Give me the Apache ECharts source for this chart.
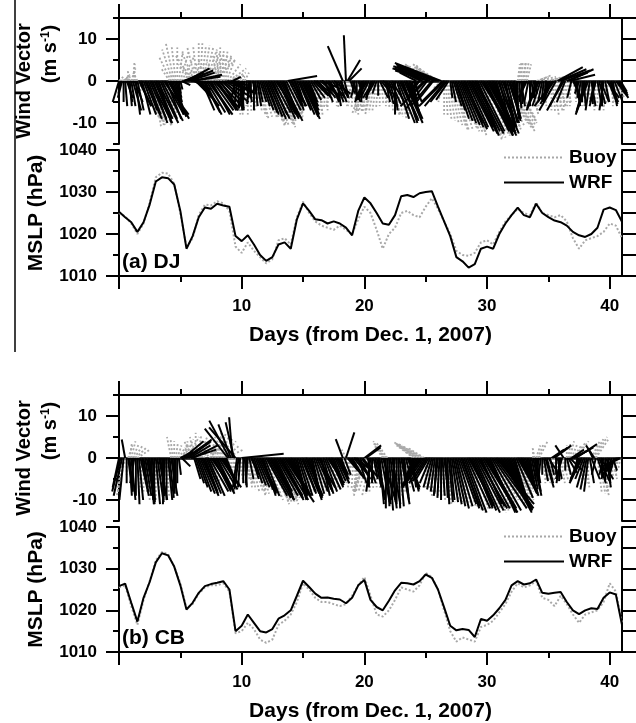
<!DOCTYPE html>
<html><head><meta charset="utf-8">
<script src="https://cdn.jsdelivr.net/npm/echarts@6/dist/echarts.min.js"></script>
<style>html,body{margin:0;padding:0;background:#fff}#c{width:636px;height:723px}</style>
</head><body><div id="c"></div>
<script>
const FONT = '"Liberation Sans", Arial, Helvetica, sans-serif';

// ---- tick values ----
const dayTicks = [0, 10, 20, 30, 40];
const dayMinor = [5, 15, 25, 35];
const dayLabels = [10, 20, 30, 40];
const windTicks = [-10, 0, 10];
const windMinor = [-15, -5, 5, 15];
const windRight = [-15, -10, -5, 0, 5, 10, 15];
const mslpTicks = [1010, 1020, 1030, 1040];
const mslpMinor = [1015, 1025, 1035];
const mslpRight = [1010, 1015, 1020, 1025, 1030, 1035, 1040];

const windStep = 0.125; // days between wind vectors (3-hourly)
const mslpStep = 0.5;   // days between MSLP samples

// ---- (a) DJ wind vectors, m/s (one row per day) ----
const wrfA_v = [
-5,-3,-4,-5,-6,-4,-5,-6,
-6,-7,-5,-8,-7,-6,-6,-8,
-8,-9,-7,-8,-9,-10,-10,-9,
-9,-10,-10,-9,-9.5,-8,-8,-9,
-9,-8.5,-8,-7,-6,-5,-4,-3,
-2,-1,1,2,3,2.5,2,1,
1.5,-2,-3,-4,-5,-6,-7,-7.5,
-8,-7.5,-7,-8,-8,-7,-6.5,-7,
-7,-6.5,-6,-5,-5,-4,-3,-2.5,
-2,-1,1,-3,-4,-5,-6,-7,
-7,-6.5,-6,-4,-5,-5.5,-4,-3,
-7,-6,-6,-5,-5,-6,-7,-7.5,
-8,-8.5,-9,-9,-8,-7.5,-7,-8,
-9,-9,-9.5,-8.5,-8,-7,1.2,-6,
-5,-6,-6,-7,-6,-7,-8,-8.5,
-9,-8,-7,-6,-5,-4.5,-4,-3.5,
-3,-3.5,-4,-3,-2,-4,-5,-4,
-4,-4.5,-5,-4,-3,-5,-6,-5,
-4,-3,8.3,-4,10.9,5,3,-3,
-5,-4.5,-4,-3,-3,-4,-5,-4.5,
-4,-4.5,-5,-4,-4.5,-4,-4,-3.5,
-3,-3.5,-4,-3,-2,-4,-5,-5.5,
-6,-5.5,-5,-7,-8,-9,-10,-9.5,
-9,-10,-10,-9,-8,-7.5,-7,-6,
-5,-4,2,-3,-4,2.5,3,-3,
-6,-6.5,2.5,3,-6,-5,3.5,3,
4,3.5,4.3,-5,-6,-6,-5,-4.5,
-4,-5,-6,-7,-9,-9.5,-10,-10.5,
-11,-11.5,-10,-11,-12,-12.5,-11,-11.5,
-12,-12.5,-13,-12,-11,-12,-12,-13,
-13,-12.5,-12,-11.5,-11,-12,-13,-12.5,
-12,-11,-10,-11,-11,-10,-9,-9.5,
-8,-8.5,-9,-8,-7,-6.5,-6,-5.5,
-5,-4.5,-4,-5,-6,-4,-3,-4,
-6,-6.5,-7,-6,-5,-4.5,-4,-5,
-4,-4.5,-5,-5.5,-6,-7,3.3,2.8,
2.5,-6,-7,-5,2,2.8,1.5,-4,
-4,-5,-6,-4,-3,-4,-5,-6,
-7,-7.5,-8,-7,-6,-5.5,-5,-6,
-6,-5.5,-5,-6,-7,-5,-4,-5,
-5,-5.5,-6,-5,-4,-3.5,-3,-2.5];
const wrfA_u = [
-1.5,-0.5,-1,0,0.5,1.5,1,0.5,
1,2,2,1,1.5,3,2.5,2,
3,4,2.5,3,4,5,3.5,4,
4,5,3,4,5,6,4.5,3.5,
5,4,3,2.5,2,1.5,1,0.5,
0.5,2,3,4.5,5.5,6,6,7,
7,4,3,3.5,4,4.5,3,4,
4,4.5,5,5.5,4.5,5,6,5,
5,6,4,5,6,6.5,7,6,
5,4,2,0,-1,-0.5,0,0.5,
0.5,-1,-0.5,0.5,1,-0.5,0,1,
0,0.5,1,1,1.5,2,2.5,3,
3,3.5,4,4.5,3.5,4,5,4.5,
4,4.5,5,4,3,3.5,7,3,
3,2.5,3,2,2,3,3.5,4,
4,3.5,3,2.5,2,2.5,3,3.5,
4,3,3,4,5,3,2,3,
3,2.5,2,3,4,2,1,2,
2,1,-3.6,1,-0.5,3,3,1,
2,1,-1,0,1,0.5,0,-1,
-2,-2.5,-3,-2,-1,-1.5,-2.5,-2,
-1,0,2,2.5,3,2,1,1.5,
2,2.5,3,1,0,3,4,4.5,
4,3.5,4.4,4,3,2.5,2,1.5,
2,1,-4,-2,-3,-5,-6,-3,
-6,-5,-8,-9,-5,-4,-9,-10,
-10,-11,-11,-5,-6,-5,-4,-3,
0.5,1,2,2.5,3,3.5,4,4.5,
5,5.5,4,5,6,6.5,5,5.5,
6,6.5,5,6,7,7.5,6,6.5,
7,6.5,6,5.5,5,4.5,4,5,
3,3.5,4,3,2,2.5,3,2.5,
2,1.5,1,0.5,0,0.5,1,0,
-1,-1.5,-2,-1,0,0.5,1,0,
-2,-2.5,-3,-2,-1,-0.5,0,-1,
-1,-1.5,-2,-3,-4.8,-4,6,6.5,
7,-3,-4,-2,5,6,6,-1,
2,1.5,1,0,-1,-0.5,0,0.5,
-2,-2.5,-3,-1,1,0,-1,-1.5,
1,1.5,2,0,-1,1,3,2,
2,1.5,1,2,3,2.5,2,1.5];
const buoyA_v = [
1,0.5,1,1.5,0.5,1,2,2.5,
3,4,4.5,3,2,-1,-3,-4,
-6,-7.5,-9,-9.5,-10,-10.5,-11,-10.5,
-10,-10.5,-11,-10,-9,-8.5,-8,-7.5,
-7,3,6,7.5,9,8.5,8,7.5,
7,6,5,4,3,2.5,2,4,
6,7,8,8.5,9,9,8.5,8.5,
8,7.5,7,6.5,6,5.5,5,4.5,
6,7,8,7.5,7,6,5,4,
3,2,1,-4,-7,-7.5,-8,-8,
1,1.5,2,-6,-8,-7.5,-7,-6.5,
-6,-7,-8,-8.5,-9,-8.5,-8,-9,
-9,-9.5,-10,-10.5,-11,-10.5,-10,-10.5,
-11,-10.5,-10,-9.5,-9,-8.5,-8,-8,
-8,-8.5,-9,-8,-7,-6.5,-6,-5.5,
-5,-5.5,-6,-5,-4,-4.5,-5,-5.5,
-6,-7,-8,-7.5,-7,-6.5,-6,-6.5,
-7,-6.5,-6,-5.5,-5,-5.5,-6,-6.5,
-5,-5.5,-6,-5,-4,-4.5,-5,-5.5,
-6,-6.5,-7,-7.5,-8,-7.5,-7,-7.5,
-8,-7.5,-7,-6.5,-6,-7,-8,-7.5,
-7,-6.5,-6,-5.5,-5,-5.5,-6,-6.5,
-7,-7.5,-8,-8,-8,-8.5,-9,-8.5,
-8,-8.5,-9,-8,-7,-6.5,-6,-4,
3,3.5,4,3.5,3,3.5,4,4,
4,3.5,3,3.5,4,3.5,3,3.5,
4,2,-2,-5,-8,-8.5,-9,-9.5,
-10,-10.5,-11,-11.5,-12,-11.5,-11,-11.5,
-12,-12.5,-13,-12.5,-12,-11.5,-11,-12,
-12,-12.5,-13,-13.5,-14,-13.5,-13,-13,
-13,-12.5,-12,-12.5,-13,-12.5,-12,-11.5,
-11,-10.5,-10,-11,-12,-11.5,-11,-10.5,
-10,-9.5,-9,0,4,4.5,4.5,4.5,
4.5,4.5,4,-3,-8,-7.5,-7,-6,
1,1.5,1,-3,-6,-5.5,-5,1,
1,-4,-7,-7.5,-8,-7,-6,-6,
-6,-6.5,-7,-6,-5,-5.5,-6,-5,
-4,-4.5,-5,-4,-3,-4.5,-6,-5.5,
-5,-5.5,-6,-5.5,-5,-6,-7,-6.5,
-6,-5.5,-5,-6,-7,-6.5,-6,-5.5,
-5,-5.5,-6,-5,-4,-3.5,-3,-2.5];
const buoyA_u = [
1,1.5,2,1.5,1,0.5,0,-0.5,
1,0.5,0,-0.5,-1,0,0,1,
2,2.5,3,3.5,4,3,2,2.5,
4,3.5,3,2.5,2,2.5,3,2,
1,-2,-3,-2.5,-2,-1,0,1,
2,3,4,4.5,5,5,5,-3,
-4,-3,-2,-1,0,0.5,1,1.5,
2,2.5,3,3.5,4,4.5,5,-2,
-1,-0.5,0,0.5,1,1.5,2,3,
4,3.5,3,0,0,0.5,1,0,
-2,0,1,0,0,0.5,1,1,
1,1.5,2,2,2,2.5,3,3,
3,3.5,4,3.5,3,3.5,4,4,
4,3.5,3,3,3,2.5,2,2.5,
3,2.5,2,1.5,1,1.5,2,2,
2,1.5,1,0.5,0,0.5,1,0.5,
0,0.5,1,0.5,0,-0.5,-1,-0.5,
0,-0.5,-1,0,1,0.5,0,0,
0,0.5,1,0.5,0,-0.5,-1,-0.5,
-1,-0.5,0,0,0,0.5,1,0,
-3,-2.5,-2,-1.5,-1,-1.5,-2,-1.5,
-1,-0.5,0,0.5,1,0.5,0,0.5,
1,1.5,2,1.5,1,1.5,2,2,
2,1.5,1,0.5,0,0.5,1,0,
-3,-3.5,-4,-4.5,-5,-4.5,-4,-4.5,
-5,-5.5,-6,-5,-4,-4.5,-5,-5.5,
-6,-4,-2,-1,0,0.5,1,1.5,
2,2.5,3,3,3,3.5,4,4,
4,4.5,5,4.5,4,4.5,5,5,
5,5.5,6,5.5,5,5.5,6,6,
6,5.5,5,4.5,4,4.5,5,5.5,
5,5.5,6,6.5,7,6.5,6,6,
6,5.5,5,1,0.5,0.5,0.5,0.8,
0.5,0.8,1,1.5,2,1.5,1,1,
3,3.5,4,2,1,0.5,0,4,
4,1,0,0.5,1,1.5,2,1.5,
-1,-0.5,0,0.5,1,0.5,0,-0.5,
1,0.5,0,-0.5,-1,-0.5,0,0.5,
0,-0.5,-1,0,1,0.5,0,-0.5,
0,0.5,1,0.5,0,-0.5,-1,-0.5,
1,0.5,0,1,2,1.5,1,0.5];

// ---- (b) CB wind vectors, m/s ----
const wrfB_v = [
-7,-8,-9,-10,4.4,-6,-8,-9,
-10,-8,-6,-9,-11,-10,-9,-8,
-7,-9,-10,-11,-11,-10,-10.5,-11,
-11,-10.5,-10,-9,-9,-10,-11,-10,
-10,-9.5,-9,-8.5,-8,-7,-6,-4,
1.5,-2,4,3.5,4.4,4,3,2,
3,-5,-6,-7,-8,-8.5,-9,-8.5,
-8,-8.5,-9,-8,-7,-7.5,-8,-8.5,
-8,-7.5,-7,-6.5,-6,-5.5,-5,7,
8.9,8,9.7,8.5,7.3,-7,-7.5,-7,
1,-6,-7,-6.5,-6,-5,-4,-5,
-6,-6.5,-7,-7.5,-8,-8.5,-9,-9,
-9,-9.5,-10,-10,-9.5,-9,-8,-9,
-10,-9.5,-9,-10,-10.5,-9,-8,-8.5,
-9,-9.5,-10,-9,-8,-8.5,-9,-8.5,
-8,-8.5,-9,-9.5,-10,-9.5,-9,-8.5,
-8,-7.5,-7,-8,-9,-8.5,-8,-7.5,
-6,-6.5,-7,-6,-5,-5.5,-6,-5,
-4,-3,4.5,-4,6.1,-3,-4,-4.5,
-5,-4,-3,-4.5,-6,-5,-4,-4.5,
3,2.5,-6,-7,-8,-6,-5,-7,
-9,-10,-11,-10.5,-10,-11,-12,-11.5,
-12.5,-12,-11,-10.5,-10,-11,-12,-11.5,
-11,-10,-9,-8,-7,-7.5,-8,-7,
-5,-5.5,-6,-6.5,-7,-6.8,-6.6,-6.2,
-6,-5.5,-5,-6,-7,-7.5,-8,-8.5,
-9,-9.5,-10,-9,-8,-9.5,-11,-10.5,
-10,-10.5,-11,-11.5,-12,-11.5,-11,-11.5,
-12,-12.5,-13,-12,-11,-11.5,-12,-12.5,
-13,-12.5,-12,-11.5,-11,-12,-13,-13,
-12,-12.5,-13,-12.5,-12,-11.5,-11,-12,
-12,-12.5,-13,-12.5,-12,-11.5,-11,-11.5,
-11,-10.5,-10,-9.5,-9,-8.5,-8,-8.5,
-8,-7.5,-7,-6.5,-6,-7.5,-9,-8,
-6,-5.5,-5,-4.5,-4,-5.5,-7,-6,
-3,-4,2,2.5,3,-4,-5,-5.5,
-6,-5,3,-3,-4,-3.5,-3,2,
2,2.5,3.3,-4,-5,-5.5,-6,-5,
-7,-7.5,-8,-6,-5,2,3,-4,
-6,-5.5,-5,-4.5,-4,-5.5,-7,-6,
-5,-4,-3,-3.5,-4,-3,-2,-1.5];
const wrfB_u = [
-1.5,-2,-2,-1,-0.8,0,1,0.5,
1,0,-1,0,0.5,1,2,1.5,
1,1.5,2,1.5,1,0.5,0.5,0,
1,1.5,2,1,0.5,0,-0.5,0,
1,1,1.5,0.5,0,0,0,0.5,
3,2,4.8,5.5,6,5.5,5,6,
6,1.5,2,2.5,3,3.5,4,3.5,
3,3.5,4,4.5,5,4.5,4,4.5,
4,4.5,5,4,3,2.5,2,-5.5,
-4.8,-3,-0.8,-2,-6.3,-1,-1,-0.5,
10,0,0.5,0,-0.5,1,2,1.5,
2,2.5,3,3.5,4,3.5,3,3.5,
5,5.5,6,5.5,5,4.5,4,5,
6,5.5,5,6,7,6,5,4.5,
4,3.5,3,2.5,2,2.5,3,3.5,
3,3.5,4,3.5,3,2.5,2,2.5,
3,3.5,4,3,2,2.5,3,3.5,
4,3.5,3,2.5,2,2.5,3,2.5,
2,1,-1.7,1.5,2,2.5,3,3,
3,3.5,4,3,2,2.5,3,3.5,
4,3.5,2,0,-1,0,1,1.5,
2,1.5,1,2,3,1.5,0,0.5,
1,1.5,2,0.5,-1,0,0.5,1,
2,1.5,1,2,3,2.5,2,1,
-2,-2.5,-3,-3.5,-4,-4.5,-5,-4.5,
-4,-3.5,-3,-2.5,-2,-1.5,-1,-0.5,
-1,-0.5,0,0.5,1,0.5,0.5,1,
1,1.5,2,2.5,3,3.5,4,4.5,
4,4.5,5,5.5,6,5.5,5,5.5,
6,6.5,7,6,5,6.5,8,7.5,
7,6.5,6,7,8,8.5,9,8.5,
8,7.5,7,6.5,6,5.5,5,4.5,
4,3.5,3,4,5,4.5,4,3.5,
3,2.5,2,1.5,1,1.5,2,1.5,
1,0,-1,-0.5,0,1,2,1.5,
2,1,3,3.5,4,0,1,0,
-1,-1.5,-2,0,1,2,3,3,
4,4.5,5,-1,-2,-2.5,-3,-2,
-2,-1.5,-1,1,2,-1,-2,-1,
2,2.5,3,0,-1,0,1,0.5,
-2,-0.5,1,-1,-3,-3.5,-4,-3];
const buoyB_v = [
-6,-7,-8,-8.5,-9,-4,3,3.5,
4,3.5,3,2.5,2,-2,-5,-7,
-8,-8.5,-9,-9.5,-10,-9.5,-9,-9.5,
-10,-9.5,-9,-8.5,-8,-8.5,-9,-8,
-7,-2,5,4.5,4,3.5,3,2.5,
2,3,4,4.5,5,4,3,3.5,
4,5,6,5.5,5,4,3,2,
-5,-5.5,-6,2,5,5.5,6,6,
6,5.5,5,4.5,4,3,2,-3,
-5,-5.5,-6,-6.5,-7,-6,-5,-4.5,
-4,-5,-6,-6.5,-7,-7.5,-8,-8,
-8,-8.5,-9,-8.5,-8,-8.5,-9,-9.5,
-10,-9.5,-9,-10,-11,-10.5,-10,-10.5,
-10,-10.5,-11,-10,-9,-9.5,-10,-9.5,
-9,-8.5,-8,-8.5,-9,-8,-7,-7.5,
-8,-8.5,-9,-8,-7,-7.5,-8,-7.5,
-7,-7.5,-8,-7,-6,-6.5,-7,-6.5,
-6,-5.5,-5,-6,-7,-6.5,-6,-5.5,
-5,-5.5,-6,-2,2,-3,-5,-6,
-7,-7.5,-8,-8.5,-9,-8.5,-8,-8,
-8,-7.5,-7,-8,-9,-8.5,-8,-7.5,
-7,-7.5,-8,-2,3,3.5,4,3.5,
-8,-8.5,-9,-8.5,-8,-8.5,-9,-8.5,
-8,-7.5,-7,-6.5,-6,-6.5,-7,-2,
3,3.2,3.5,3.6,3.7,3.4,3,2.5,
-7,-7.5,-8,-8.5,-9,-8.5,-8,-8.5,
-9,-9.5,-10,-9.5,-9,-10,-11,-10.5,
-10,-10.5,-11,-10.5,-10,-11,-12,-11.5,
-11,-11.5,-12,-12.5,-13,-12.5,-12,-12.5,
-12,-11.5,-11,-12,-13,-12.5,-12,-12.5,
-11,-11.5,-12,-11,-10,-10.5,-11,-11.5,
-10,-10.5,-11,-10,-9,-9.5,-10,-9.5,
-9,-8.5,-8,-7.5,-7,-8,-9,-8.5,
-8,-7.5,-7,-6.5,-6,-2,2,2.5,
3,3.5,4,-2,-5,-5.5,-6,-5.5,
-5,-4.5,-4,-5,-6,-5.5,-5,-5.5,
-6,-5.5,-5,-1,3,3.5,4,3.5,
3,3.5,4,-2,-5,-5.5,-6,-6.5,
-7,-6.5,-6,-1,4,4.5,5,4.5,
-8,-8.5,-9,-8,-7,-7.5,-8,-7,
-6,-5.5,-5,-4.5,-4,-3.5,-3,-2.5];
const buoyB_u = [
0,-0.5,-1,-1.5,-2,0,1,0.5,
1,1.5,2,2.5,3,1,0,-0.5,
0,0.5,1,0.5,0,-0.5,-1,-0.5,
0,0.5,1,0.5,0,0.5,1,0.5,
0,-0.5,-1,-0.5,0,0.5,1,1.5,
2,1.5,1,2,3,3.5,4,-1,
-2,-1,0,1,2,2.5,3,3.5,
2,2.5,3,2,1,1.5,2,2.5,
1,1.5,2,2.5,3,3.5,4,1,
0,0.5,1,0.5,0,0.5,1,1,
1,1.5,2,1.5,1,1.5,2,2.5,
3,2.5,2,2.5,3,3.5,4,4,
4,4.5,5,4.5,4,3.5,3,3.5,
3,3.5,4,3.5,3,2.5,2,2.5,
2,2.5,3,2.5,2,1.5,1,1.5,
2,1.5,1,1.5,2,1.5,1,1,
1,1.5,2,1.5,1,0.5,0,0.5,
1,0.5,0,0.5,1,1.5,2,1,
0,0.5,1,0,-1,0,0,-0.5,
-1,-0.5,0,-0.5,-1,-1.5,-2,-2,
-2,-2.5,-3,-2.5,-2,-1.5,-1,-0.5,
0,0.5,1,-1,-2,-2.5,-3,-2.5,
0,0.5,1,0.5,0,0.5,1,1,
1,0.5,0,-0.5,-1,-0.5,0,-2,
-4,-4.5,-5,-5.5,-6,-5.5,-5,-4,
0,0.5,1,0.5,0,0.5,1,0.5,
0,0.5,1,1.5,2,1.5,1,1.5,
2,2.5,3,2.5,2,2.5,3,3.5,
4,3.5,3,3.5,4,4.5,5,4.5,
5,4.5,4,5,6,5.5,5,5.5,
6,5.5,5,5.5,6,6.5,7,6.5,
6,6.5,7,6,5,5.5,6,5.5,
5,4.5,4,3.5,3,3.5,4,3.5,
3,2.5,2,2,2,1,0,-0.5,
1,1.5,2,1.5,1,0.5,0,0.5,
1,0.5,0,-0.5,-1,-0.5,0,0.5,
1,1.5,2,1,0,0.5,1,1.5,
2,2.5,3,2,1,0.5,0,0.5,
1,0.5,0,1,2,2.5,3,3,
1,1.5,2,1.5,1,0.5,0,0.5,
0,0.5,1,0.5,0,-0.5,-1,-0.5];

// ---- MSLP, hPa, every 0.5 day from day 0 to 41 ----
const mslpA_wrf = [
1025.3,1024.0,1022.8,1020.5,1022.8,1027.0,1032.5,1033.5,1033.3,1031.8,
1025.5,1016.5,1019.5,1024.0,1026.3,1026.0,1027.2,1026.8,1026.5,1019.5,
1018.3,1019.7,1017.5,1015.0,1013.6,1014.5,1017.5,1018.0,1016.5,1023.5,
1027.3,1025.5,1023.5,1023.3,1022.5,1023.0,1022.5,1021.5,1019.7,1025.5,
1028.7,1027.3,1025.0,1022.5,1022.2,1024.5,1029.0,1029.3,1028.8,1029.7,
1030.0,1030.2,1026.5,1023.0,1019.5,1014.5,1013.5,1012.0,1012.8,1016.5,
1017.0,1016.5,1020.0,1022.5,1024.5,1026.3,1024.5,1024.0,1027.2,1025.0,
1024.0,1023.2,1022.8,1022.0,1020.5,1019.7,1019.3,1020.0,1021.5,1025.8,
1026.3,1025.7,1022.9];
const mslpA_buoy = [
1025.0,1024.2,1022.5,1020.0,1022.5,1027.5,1033.5,1034.6,1034.4,1032.0,
1025.0,1016.8,1019.0,1024.5,1027.0,1026.8,1027.8,1027.3,1025.5,1017.0,
1015.5,1018.0,1016.0,1014.5,1013.0,1014.0,1018.5,1019.0,1017.5,1024.0,
1027.7,1025.0,1023.0,1022.0,1021.5,1021.0,1022.0,1021.0,1020.0,1023.5,
1026.5,1025.0,1021.0,1016.5,1020.0,1021.5,1025.0,1025.5,1024.5,1024.0,
1026.5,1028.5,1026.0,1023.0,1020.0,1016.0,1015.0,1014.8,1015.5,1018.0,
1018.5,1017.5,1020.5,1023.0,1024.5,1026.0,1025.0,1024.5,1027.5,1025.0,
1024.5,1024.0,1024.5,1023.0,1019.0,1016.5,1018.5,1019.0,1019.5,1020.5,
1022.5,1022.0,1019.0];
const mslpB_wrf = [
1025.8,1026.4,1021.8,1017.3,1023.0,1026.8,1031.5,1033.7,1033.2,1030.5,
1026.0,1020.2,1021.8,1024.2,1025.8,1026.3,1026.6,1027.0,1025.0,1015.0,
1016.3,1019.0,1017.0,1015.0,1014.7,1015.5,1018.0,1018.8,1020.0,1023.5,
1027.1,1025.6,1024.0,1023.0,1023.1,1022.8,1022.6,1021.7,1023.0,1026.0,
1027.3,1022.5,1020.8,1020.0,1022.3,1024.8,1026.6,1026.5,1026.2,1027.0,
1028.6,1027.8,1025.0,1020.7,1016.3,1015.2,1015.5,1015.3,1013.6,1017.9,
1017.5,1018.8,1020.5,1022.5,1026.0,1027.0,1026.2,1026.5,1027.4,1024.2,
1024.0,1024.2,1024.4,1022.0,1020.0,1019.1,1020.0,1020.5,1020.3,1023.0,
1024.3,1023.8,1016.5];
const mslpB_buoy = [
1025.5,1026.0,1021.0,1016.5,1022.5,1027.0,1032.0,1034.0,1033.5,1030.5,
1026.5,1020.5,1021.5,1024.0,1025.5,1026.0,1026.0,1026.5,1024.5,1014.5,
1015.0,1017.0,1015.5,1013.0,1012.2,1013.0,1016.5,1017.5,1019.0,1022.0,
1026.5,1025.0,1023.0,1022.0,1022.0,1021.5,1021.0,1021.5,1023.5,1026.0,
1028.0,1023.5,1019.0,1018.5,1020.0,1022.5,1025.5,1025.0,1024.5,1026.0,
1029.0,1028.0,1025.0,1020.0,1015.0,1012.5,1013.5,1013.0,1012.5,1016.0,
1016.5,1017.5,1019.5,1021.5,1024.5,1026.5,1025.5,1026.0,1027.0,1023.0,
1022.5,1021.0,1023.5,1021.5,1019.0,1017.0,1019.0,1019.5,1020.0,1022.0,
1026.5,1024.5,1017.0];

// ---- helpers ----
const vecData = (u, v) => u.map((uu, i) => [i * windStep, uu, v[i]]);
const lineData = arr => arr.map((p, i) => [i * mslpStep, p]);
const BLACK = '#000';
const GREY = '#a8a8a8';

function stickRenderer(color, dotted) {
  return function (params, api) {
    const t = api.value(0), u = api.value(1), v = api.value(2);
    const base = api.coord([t, 0]);
    const tip = api.coord([t, v]);
    const unit = api.size([1, 1])[1];
    return {
      type: 'line',
      shape: { x1: base[0], y1: base[1], x2: base[0] + u * unit, y2: tip[1] },
      style: { stroke: color, lineWidth: dotted ? 1.8 : 2, lineDash: dotted ? [2, 2] : null }
    };
  };
}

const axisLineStyle = { color: BLACK, width: 2 };
const labelStyle = { color: BLACK, fontFamily: FONT, fontWeight: 'bold', fontSize: 17, formatter: v => String(v) };

function xTop(g, ticks, len, showLine) {
  return { type: 'value', gridIndex: g, position: 'top', min: 0, max: 41,
    axisLine: { show: showLine, onZero: false, lineStyle: axisLineStyle },
    axisTick: { show: true, inside: false, length: len, lineStyle: { color: BLACK, width: 2 }, customValues: ticks },
    axisLabel: { show: false }, splitLine: { show: false } };
}
function xZero(g, yIdx) {
  return { type: 'value', gridIndex: g, position: 'bottom', min: 0, max: 41,
    axisLine: { show: true, onZero: true, onZeroAxisIndex: yIdx, lineStyle: { color: BLACK, width: 2.5 } },
    axisTick: { show: false }, axisLabel: { show: false }, splitLine: { show: false } };
}
function xBottom(g, ticks, len, showLine, withLabels) {
  const a = { type: 'value', gridIndex: g, position: 'bottom', min: 0, max: 41,
    axisLine: { show: showLine, onZero: false, lineStyle: axisLineStyle },
    axisTick: { show: true, inside: false, length: len, lineStyle: { color: BLACK, width: 2 }, customValues: ticks },
    axisLabel: { show: false }, splitLine: { show: false } };
  if (withLabels) {
    a.axisLabel = Object.assign({ show: true, margin: 22, customValues: dayLabels }, labelStyle);
    a.name = 'Days (from Dec. 1, 2007)';
    a.nameLocation = 'middle';
    a.nameGap = 49;
    a.nameTextStyle = { color: BLACK, fontFamily: FONT, fontWeight: 'bold', fontSize: 21 };
  }
  return a;
}
function yAxis(g, pos, min, max, ticks, len, showLine, labels, name) {
  const a = { type: 'value', gridIndex: g, position: pos, min: min, max: max,
    axisLine: { show: showLine, onZero: false, lineStyle: axisLineStyle },
    axisTick: { show: true, inside: false, length: len, lineStyle: { color: BLACK, width: 2 }, customValues: ticks },
    axisLabel: { show: false }, splitLine: { show: false } };
  if (labels) a.axisLabel = Object.assign({ show: true, margin: 22, customValues: labels }, labelStyle);
  if (name) {
    a.name = name; a.nameLocation = 'middle'; a.nameGap = 72;
    a.nameTextStyle = { color: BLACK, fontFamily: FONT, fontWeight: 'bold', fontSize: 21 };
  }
  return a;
}

const grids = [
  { left: 119, right: 14, top: 18, height: 126 },
  { left: 119, right: 14, top: 150, height: 126 },
  { left: 119, right: 14, top: 395, height: 126 },
  { left: 119, right: 14, top: 527, height: 126 }
];

const xAxes = [
  xTop(0, dayTicks, 14, true), xTop(0, dayMinor, 6, false), xZero(0, 0),
  xBottom(1, dayTicks, 13, true, true), xBottom(1, dayMinor, 6, false, false),
  xTop(2, dayTicks, 14, true), xTop(2, dayMinor, 6, false), xZero(2, 6),
  xBottom(3, dayTicks, 13, true, true), xBottom(3, dayMinor, 6, false, false)
];
const yAxes = [
  yAxis(0, 'left', -15, 15, windTicks, 13, true, windTicks),
  yAxis(0, 'left', -15, 15, windMinor, 6, false),
  yAxis(0, 'right', -15, 15, windRight, 14, true),
  yAxis(1, 'left', 1010, 1040, mslpTicks, 13, true, mslpTicks, 'MSLP (hPa)'),
  yAxis(1, 'left', 1010, 1040, mslpMinor, 6, false),
  yAxis(1, 'right', 1010, 1040, mslpRight, 14, true),
  yAxis(2, 'left', -15, 15, windTicks, 13, true, windTicks),
  yAxis(2, 'left', -15, 15, windMinor, 6, false),
  yAxis(2, 'right', -15, 15, windRight, 14, true),
  yAxis(3, 'left', 1010, 1040, mslpTicks, 13, true, mslpTicks, 'MSLP (hPa)'),
  yAxis(3, 'left', 1010, 1040, mslpMinor, 6, false),
  yAxis(3, 'right', 1010, 1040, mslpRight, 14, true)
];

function sticks(name, xi, yi, u, v, color, dotted, z) {
  return { type: 'custom', name: name, xAxisIndex: xi, yAxisIndex: yi, z: z,
    dimensions: ['t', 'u', 'v'], encode: { x: 0, y: 2 },
    renderItem: stickRenderer(color, dotted), clip: false, data: vecData(u, v) };
}
function mslpLine(name, xi, yi, arr, color, dotted, z) {
  return { type: 'line', name: name, xAxisIndex: xi, yAxisIndex: yi, z: z,
    symbol: 'none', data: lineData(arr),
    lineStyle: { color: color, width: 2, type: dotted ? 'dotted' : 'solid' },
    itemStyle: { color: color, opacity: 0 } };
}

const series = [
  sticks('Buoy wind (a)', 0, 0, buoyA_u, buoyA_v, GREY, true, 2),
  sticks('WRF wind (a)', 0, 0, wrfA_u, wrfA_v, BLACK, false, 3),
  mslpLine('Buoy', 3, 3, mslpA_buoy, GREY, true, 2),
  mslpLine('WRF', 3, 3, mslpA_wrf, BLACK, false, 3),
  sticks('Buoy wind (b)', 5, 6, buoyB_u, buoyB_v, GREY, true, 2),
  sticks('WRF wind (b)', 5, 6, wrfB_u, wrfB_v, BLACK, false, 3),
  mslpLine('Buoy', 8, 9, mslpB_buoy, GREY, true, 2),
  mslpLine('WRF', 8, 9, mslpB_wrf, BLACK, false, 3)
];

const legendText = { color: BLACK, fontFamily: FONT, fontWeight: 'bold', fontSize: 19 };
const legendBase = { orient: 'vertical', left: 503, itemWidth: 60, itemHeight: 12, itemGap: 6, padding: 0,
  selectedMode: false, data: ['Buoy', 'WRF'], textStyle: legendText, itemStyle: { opacity: 0 } };
const legends = [
  Object.assign({ top: 148 }, legendBase),
  Object.assign({ top: 527 }, legendBase)
];

const panelTitle = { color: BLACK, fontFamily: FONT, fontWeight: 'bold', fontSize: 21 };
const titles = [
  { text: '(a) DJ', left: 122, top: 252, padding: 0, textStyle: panelTitle },
  { text: '(b) CB', left: 122, top: 628, padding: 0, textStyle: panelTitle }
];

function windTitle(yc) {
  const f = 'bold 20px ' + FONT;
  return [
    { type: 'text', x: 24, y: yc, rotation: Math.PI / 2,
      style: { text: 'Wind Vector', font: f, fill: BLACK, align: 'center', verticalAlign: 'middle', textAlign: 'center', textVerticalAlign: 'middle' } },
    { type: 'text', x: 50, y: yc - 27, rotation: Math.PI / 2,
      style: { text: '(m s{sup|-1})', font: f, fill: BLACK, align: 'center', verticalAlign: 'middle', textAlign: 'center', textVerticalAlign: 'middle',
        rich: { sup: { fontSize: 12, fontWeight: 'bold', fontFamily: FONT, fill: BLACK, verticalAlign: 'top', lineHeight: 20 } } } }
  ];
}

const graphic = [].concat(windTitle(81), windTitle(458), [
  { type: 'line', shape: { x1: 15, y1: 0, x2: 15, y2: 352 }, style: { stroke: BLACK, lineWidth: 1.5 } }
]);

const chart = echarts.init(document.getElementById('c'), null, { renderer: 'canvas' });
chart.setOption({
  backgroundColor: '#fff',
  animation: false,
  textStyle: { fontFamily: FONT },
  grid: grids,
  xAxis: xAxes,
  yAxis: yAxes,
  legend: legends,
  title: titles,
  graphic: graphic,
  series: series
});
</script>
</body></html>
